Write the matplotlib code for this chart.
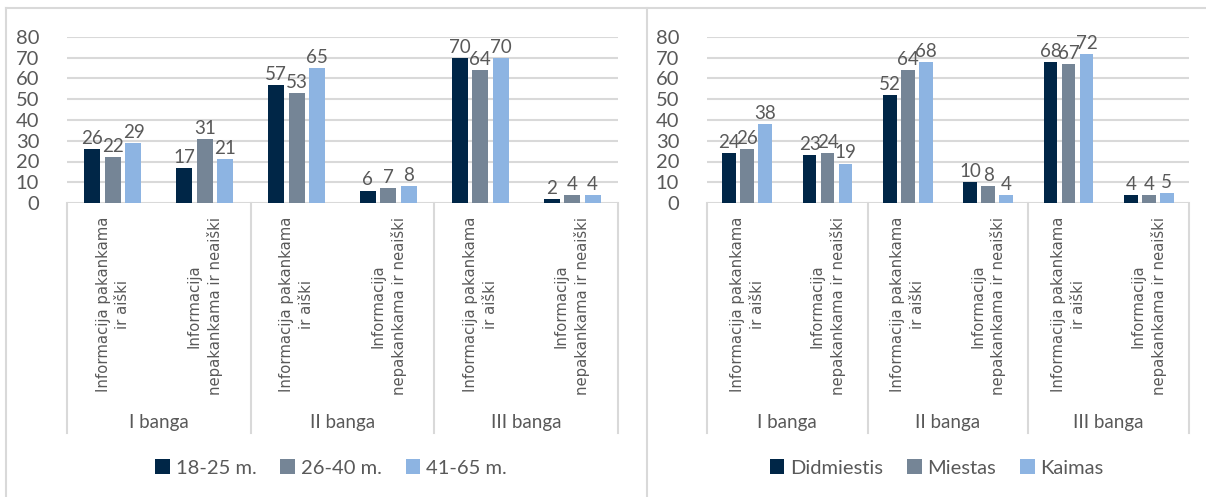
import matplotlib
matplotlib.use("Agg")
import matplotlib.pyplot as plt
import matplotlib.transforms as mtransforms
from matplotlib.lines import Line2D
from matplotlib.patches import Patch
import numpy as np

# ---------------- data ----------------
categories = ["Informacija pakankama\nir aiški", "Informacija\nnepakankama ir neaiški"] * 3
groups = ["I banga", "II banga", "III banga"]

age_series = ["18-25 m.", "26-40 m.", "41-65 m."]
age_18_25 = [26, 17, 57, 6, 70, 2]
age_26_40 = [22, 31, 53, 7, 64, 4]
age_41_65 = [29, 21, 65, 8, 70, 4]

place_series = ["Didmiestis", "Miestas", "Kaimas"]
didmiestis = [24, 23, 52, 10, 68, 4]
miestas = [26, 24, 64, 8, 67, 4]
kaimas = [38, 19, 68, 4, 72, 5]

yticks = [0, 10, 20, 30, 40, 50, 60, 70, 80]

colors = ["#002647", "#758596", "#8db4e2"]
text_gray = "#595959"
grid_gray = "#d9d9d9"

W, H = 1206, 497
fig = plt.figure(figsize=(W / 100, H / 100), dpi=100)
fig.patch.set_facecolor("white")

num_font = ["Lato", "DejaVu Sans"]
cat_font = ["DejaVu Sans"]

# panel borders
for xs, ys in [((6, 6), (8, H)), ((647, 647), (8, H)), ((6, W), (8, 8))]:
    fig.add_artist(Line2D([x / W for x in xs], [1 - y / H for y in ys],
                          color="#d9d9d9", lw=1.5, transform=fig.transFigure))


def draw_panel(x0px, x1px, series_vals, series_names, legend_cx):
    y0px, y1px = 203, 37
    ax = fig.add_axes([x0px / W, 1 - y0px / H, (x1px - x0px) / W, (y0px - y1px) / H])
    n = len(categories)
    x = np.arange(n)
    bw = 0.174
    step = 0.224
    for i, vals in enumerate(series_vals):
        pos = x + (i - 1) * step
        bars = ax.bar(pos, vals, width=bw, color=colors[i], zorder=3)
        for b, v in zip(bars, vals):
            ax.annotate(str(v), (b.get_x() + b.get_width() / 2, v),
                        xytext=(0, 1.5), textcoords="offset points",
                        ha="center", va="bottom", fontsize=13.5,
                        color=text_gray, family=num_font)
    ax.set_xlim(-0.5, n - 0.5)
    ax.set_ylim(0, 80)
    ax.set_yticks(yticks)
    ax.set_yticklabels([str(t) for t in yticks], fontsize=14.5, color=text_gray, family=num_font)
    ax.tick_params(axis="y", length=0, pad=20)
    ax.set_xticks([])
    for s in ax.spines.values():
        s.set_visible(False)
    ax.grid(axis="y", color=grid_gray, lw=1.5, zorder=0)
    ax.set_axisbelow(True)

    axh = y0px - y1px
    trans = mtransforms.blended_transform_factory(ax.transData, ax.transAxes)
    ybot = (y0px - 433) / axh
    for sx in [-0.5, 1.5, 3.5, 5.5]:
        ax.plot([sx, sx], [0, ybot], color=grid_gray, lw=1.5, transform=trans, clip_on=False)
    ytop = (y0px - 217) / axh
    for xi, lab in zip(x, categories):
        ax.text(xi, ytop, lab, rotation=90, ha="center", va="top", multialignment="center",
                fontsize=10.7, color=text_gray, family=cat_font, transform=trans,
                linespacing=1.4)
    ygrp = (y0px - 422) / axh
    for gi, g in enumerate(groups):
        ax.text(2 * gi + 0.5, ygrp, g, ha="center", va="center", fontsize=13.5,
                color=text_gray, family=num_font, transform=trans)

    handles = [Patch(facecolor=colors[i], edgecolor="none") for i in range(3)]
    fig.legend(handles, series_names, loc="center", bbox_to_anchor=(legend_cx / W, 1 - 468 / H),
               ncol=3, frameon=False, handlelength=0.7, handleheight=0.7,
               handletextpad=0.3, columnspacing=1.2, labelcolor=text_gray,
               prop={"family": num_font, "size": 14.5})
    return ax


draw_panel(67, 618, [age_18_25, age_26_40, age_41_65], age_series, 331)
draw_panel(707, 1189, [didmiestis, miestas, kaimas], place_series, 937)

fig.savefig("out.png", dpi=100, facecolor="white")
